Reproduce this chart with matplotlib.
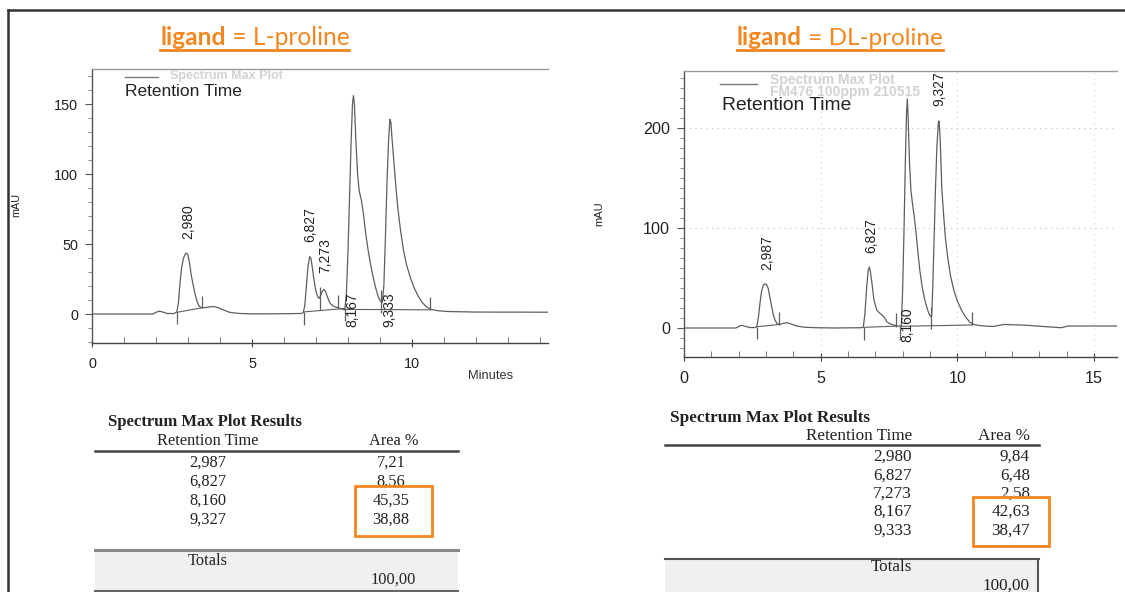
import matplotlib
matplotlib.use("Agg")
import matplotlib.pyplot as plt
from matplotlib.lines import Line2D
from matplotlib.patches import Rectangle
from matplotlib.ticker import MultipleLocator

plt.rcParams["font.family"] = ["Liberation Sans", "DejaVu Sans"]

W, H = 1125, 592
ORANGE = "#F5861F"
TRACE = "#5e5e5e"
INK = "#222222"

# ---- L-proline chromatogram (minutes, mAU) ----
l_time = [0.0, 1.9, 2.0, 2.1, 2.2, 2.35, 2.55, 2.65, 2.7, 2.75,
          2.8, 2.86, 2.92, 2.96, 3.0, 3.05, 3.1, 3.16, 3.22, 3.28,
          3.34, 3.4, 3.5, 3.65, 3.8, 3.95, 4.1, 4.3, 4.6, 5.0,
          6.0, 6.55, 6.6, 6.65, 6.7, 6.75, 6.8, 6.84, 6.88, 6.94,
          7.0, 7.06, 7.1, 7.15, 7.2, 7.25, 7.3, 7.36, 7.44, 7.55,
          7.65, 7.78, 7.9, 7.95, 8.0, 8.05, 8.1, 8.14, 8.17, 8.2,
          8.25, 8.3, 8.35, 8.42, 8.48, 8.55, 8.62, 8.7, 8.78, 8.86,
          8.95, 9.02, 9.07, 9.12, 9.17, 9.22, 9.27, 9.31, 9.34, 9.38,
          9.44, 9.5, 9.56, 9.64, 9.73, 9.83, 9.94, 10.06, 10.2, 10.33,
          10.46, 10.6, 10.8, 11.1, 12.0, 14.25]
l_mau = [0.0, 0.0, 1.2, 2.0, 1.5, 0.4, 0.3, 1.5, 8, 22,
         33, 40, 43, 43.5, 42, 36, 28, 21, 14.5, 9,
         6, 4.6, 4.5, 5.0, 5.4, 4.5, 3.0, 1.2, 0.4, 0.1,
         0.2, 0.4, 1.0, 6, 20, 34, 41, 40, 34, 24,
         16, 12, 11.2, 13.5, 16.5, 17.6, 16, 12, 7.6, 5.5,
         4.8, 3.8, 3.0, 15, 45, 85, 125, 150, 156, 150,
         122, 100, 88, 81, 72, 58, 47, 36, 27, 19,
         12, 9, 8, 20, 55, 95, 125, 139, 137, 124,
         107, 90, 75, 60, 46, 35, 26.7, 19, 12.4, 8,
         5, 3.2, 2.4, 1.8, 1.4, 1.3]
l_labels = ["2,980", "6,827", "7,273", "8,167", "9,333"]
l_label_t = [3.0, 6.83, 7.3, 8.14, 9.3]
l_label_y = [66, 64, 42, 3, 3]
l_base_t = [(2.65, 3.45), (6.62, 7.9), (7.91, 10.56)]
l_base_y = [(1.2, 4.5), (1.5, 4.0), (3.3, 3.0)]
l_tick_t = [2.65, 3.45, 6.62, 7.12, 7.7, 7.91, 9.03, 10.56]
l_tick_lo = [-7, 4.5, -7.5, 3, 4, -5, 0.5, 3]
l_tick_hi = [1.2, 13, 1.5, 19.5, 13.6, 3.3, 17, 12.4]

# ---- DL-proline chromatogram ----
r_time = [0.0, 1.9, 2.0, 2.1, 2.2, 2.4, 2.6, 2.66, 2.72, 2.78,
          2.84, 2.9, 2.96, 3.02, 3.08, 3.14, 3.21, 3.27, 3.33, 3.4,
          3.5, 3.62, 3.76, 3.9, 4.12, 4.4, 4.8, 5.5, 6.5, 6.56,
          6.62, 6.68, 6.74, 6.78, 6.82, 6.87, 6.95, 7.05, 7.15, 7.25,
          7.34, 7.42, 7.55, 7.7, 7.9, 7.95, 8.0, 8.05, 8.1, 8.14,
          8.17, 8.2, 8.25, 8.3, 8.36, 8.42, 8.49, 8.56, 8.63, 8.72,
          8.8, 8.88, 8.95, 9.02, 9.06, 9.1, 9.15, 9.2, 9.25, 9.3,
          9.33, 9.37, 9.43, 9.5, 9.57, 9.65, 9.75, 9.87, 10.0, 10.15,
          10.3, 10.45, 10.6, 10.8, 11.1, 11.3, 11.7, 12.5, 13.3, 13.8,
          14.05, 15.84]
r_mau = [0.0, 0.0, 1.5, 2.7, 2.0, 0.5, 0.4, 1.3, 10, 25,
         37, 43, 44, 43.5, 39.7, 31, 21, 13, 8, 4.5,
         3.5, 4.5, 5.3, 4.2, 2.0, 0.8, 0.3, 0.0, 0.3, 0.8,
         15, 40, 58, 61, 56, 46, 28, 18, 15, 13,
         10, 6.3, 4, 2.7, 1.7, 2, 40, 100, 170, 215,
         229, 210, 165, 138, 124, 112, 95, 75, 57, 40,
         29, 21, 15, 11.5, 12, 40, 90, 140, 180, 204,
         207, 190, 140, 112, 88, 70, 52, 38, 27, 18,
         11, 6, 3.5, 2.5, 1.8, 1.5, 3.5, 2.8, 1.2, 0.3,
         2.0, 2.0]
r_labels = ["2,987", "6,827", "8,160", "9,327"]
r_label_t = [3.05, 6.85, 8.17, 9.34]
r_label_y = [75, 92, 3, 239]
r_base_t = [(2.66, 3.49), (6.59, 7.75), (7.9, 10.55)]
r_base_y = [(1.3, 3.5), (0.7, 1.8), (1.7, 3.0)]
r_tick_t = [2.66, 3.49, 6.59, 7.75, 7.9, 9.04, 10.55]
r_tick_lo = [-10.5, 3.5, -11.5, 1.5, -12, -1, 3]
r_tick_hi = [1.3, 16.5, 0.7, 15, 1.7, 21, 16]

# ---- result tables ----
l_tab_rt = ["2,987", "6,827", "8,160", "9,327"]
l_tab_area = ["7,21", "8,56", "45,35", "38,88"]
l_total = "100,00"
r_tab_rt = ["2,980", "6,827", "7,273", "8,167", "9,333"]
r_tab_area = ["9,84", "6,48", "2,58", "42,63", "38,47"]
r_total = "100,00"


def fx(x):
    return x / W


def fy(y):
    return 1 - y / H


fig = plt.figure(figsize=(W / 100, H / 100), dpi=100)
fig.patch.set_facecolor("white")


def hline(x0, x1, y, **kw):
    fig.add_artist(Line2D([fx(x0), fx(x1)], [fy(y), fy(y)], transform=fig.transFigure, **kw))


def txt(x, y, s, **kw):
    kw.setdefault("va", "center")
    kw.setdefault("color", INK)
    return fig.text(fx(x), fy(y), s, **kw)


def chrom(ax, t, y, names, lt, ly, bt, by, kt, klo, khi, ysize):
    ax.plot(t, y, color=TRACE, lw=0.9)
    for (a, b), (c, d) in zip(bt, by):
        ax.plot([a, b], [c, d], color=TRACE, lw=0.8)
    ax.vlines(kt, klo, khi, color=TRACE, lw=0.9)
    for s, a, b in zip(names, lt, ly):
        ax.text(a, b, s, rotation=90, ha="center", va="center", fontsize=10, color=INK)
    ax.spines["right"].set_visible(False)
    ax.spines["top"].set_color("#9a9a9a")
    ax.spines["left"].set_color("#555555")
    ax.spines["bottom"].set_color("#444444")
    for s in ax.spines.values():
        s.set_linewidth(1.0)
    ax.xaxis.set_major_locator(MultipleLocator(5))
    ax.xaxis.set_minor_locator(MultipleLocator(1))
    ax.yaxis.set_minor_locator(MultipleLocator(10))
    ax.tick_params(axis="x", which="major", direction="inout", length=6, color="#444",
                   labelsize=ysize, labelcolor=INK, pad=7)
    ax.tick_params(axis="x", which="minor", direction="in", length=4, color="#666")
    ax.tick_params(axis="y", which="major", direction="out", length=5, color="#555",
                   labelsize=ysize, labelcolor=INK, pad=5)
    ax.tick_params(axis="y", which="minor", direction="out", length=3, color="#777")
    ax.set_facecolor("none")


# left chromatogram
axL = fig.add_axes([fx(92), fy(343), (548 - 92) / W, (343 - 69) / H])
axL.set_xlim(0, 14.25)
axL.set_ylim(-20.7, 175)
axL.yaxis.set_major_locator(MultipleLocator(50))
chrom(axL, l_time, l_mau, l_labels, l_label_t, l_label_y, l_base_t, l_base_y,
      l_tick_t, l_tick_lo, l_tick_hi, 10.4)

# right chromatogram
axR = fig.add_axes([fx(684), fy(357), (1117 - 684) / W, (357 - 70.5) / H])
axR.set_xlim(0, 15.84)
axR.set_ylim(-29, 257.5)
axR.yaxis.set_major_locator(MultipleLocator(100))
for g in [100, 200]:
    axR.axhline(g, color="#bdbdbd", lw=0.8, ls=(0, (1, 4)), zorder=0)
for g in [5, 10, 15]:
    axR.axvline(g, color="#cfcfcf", lw=0.8, ls=(0, (1, 4)), zorder=0)
chrom(axR, r_time, r_mau, r_labels, r_label_t, r_label_y, r_base_t, r_base_y,
      r_tick_t, r_tick_lo, r_tick_hi, 11.6)

# axis titles and legends
txt(16, 205, "mAU", rotation=90, ha="center", fontsize=7.8)
txt(599, 214, "mAU", rotation=90, ha="center", fontsize=8)
txt(491, 376, "Minutes", ha="center", fontsize=9.3, color="#333")

hline(125, 158, 76.5, color="#777", lw=1)
txt(170, 76.5, "Spectrum Max Plot", ha="left", fontsize=9, fontweight="bold", color="#d2d2d2")
txt(125, 91.5, "Retention Time", ha="left", fontsize=12.5)

hline(720, 757, 84, color="#777", lw=1)
txt(770, 80, "Spectrum Max Plot", ha="left", fontsize=10, fontweight="bold", color="#d2d2d2")
txt(770, 92, "FM476 100ppm 210515", ha="left", fontsize=10, fontweight="bold", color="#d2d2d2")
txt(722, 105.5, "Retention Time", ha="left", fontsize=13.9)

# orange headings with underline
renderer = fig.canvas.get_renderer()


def heading(x0, x1, y_base, rest):
    a = fig.text(fx(x0), fy(y_base), "ligand", fontsize=17, fontweight="bold",
                 color=ORANGE, family="Lato", va="baseline")
    b = fig.text(0, fy(y_base), " = " + rest, fontsize=17, color=ORANGE,
                 family="Lato", va="baseline")
    for _ in range(3):
        ea = a.get_window_extent(renderer)
        b.set_x(ea.x1 / W)
        eb = b.get_window_extent(renderer)
        k = (x1 - x0) / (eb.x1 - ea.x0)
        a.set_fontsize(a.get_fontsize() * k)
        b.set_fontsize(b.get_fontsize() * k)
    ea = a.get_window_extent(renderer)
    b.set_x(ea.x1 / W)
    eb = b.get_window_extent(renderer)
    fig.add_artist(Line2D([ea.x0 / W, eb.x1 / W], [fy(y_base + 5)] * 2,
                          transform=fig.transFigure, color=ORANGE, lw=2))


heading(160, 349, 45, "L-proline")
heading(737, 943, 45, "DL-proline")

# outer frame
fig.add_artist(Line2D([fx(8), fx(1125)], [fy(10), fy(10)], transform=fig.transFigure,
                      color="#333", lw=1.8))
fig.add_artist(Line2D([fx(8), fx(8)], [fy(10), fy(592)], transform=fig.transFigure,
                      color="#333", lw=1.8))

# left table
SERIF = "Liberation Serif"
txt(108, 422, "Spectrum Max Plot Results", ha="left", family=SERIF, fontweight="bold", fontsize=12)
txt(208, 441, "Retention Time", ha="center", family=SERIF, fontsize=11.8)
txt(394, 441, "Area %", ha="center", family=SERIF, fontsize=11.8)
hline(95, 458, 451, color="#444", lw=1.8)
for i, (rt, ar) in enumerate(zip(l_tab_rt, l_tab_area)):
    y = 463 + 19 * i
    txt(208, y, rt, ha="center", family=SERIF, fontsize=11.8)
    txt(391, y, ar, ha="center", family=SERIF, fontsize=11.8)
fig.add_artist(Rectangle((fx(95), fy(590)), (458 - 95) / W, (590 - 550) / H,
                         transform=fig.transFigure, facecolor="#f0f0f0", edgecolor="none", zorder=0))
hline(95, 458, 550, color="#888", lw=2.2)
hline(95, 458, 590.5, color="#666", lw=1.5)
txt(208, 561, "Totals", ha="center", family=SERIF, fontsize=11.8)
txt(393, 580, l_total, ha="center", family=SERIF, fontsize=11.8)
fig.add_artist(Rectangle((fx(355), fy(536)), (432 - 355) / W, (536 - 486) / H,
                         transform=fig.transFigure, facecolor="none", edgecolor=ORANGE, lw=2, zorder=5))

# right table
txt(670, 418, "Spectrum Max Plot Results", ha="left", family=SERIF, fontweight="bold", fontsize=12.3)
txt(912, 436, "Retention Time", ha="right", family=SERIF, fontsize=12.3)
txt(1030, 436, "Area %", ha="right", family=SERIF, fontsize=12.3)
hline(665, 1039, 445, color="#444", lw=1.8)
for i, (rt, ar) in enumerate(zip(r_tab_rt, r_tab_area)):
    y = 457 + 18.3 * i
    txt(912, y, rt, ha="right", family=SERIF, fontsize=12.3)
    txt(1030, y, ar, ha="right", family=SERIF, fontsize=12.3)
fig.add_artist(Rectangle((fx(665), fy(600)), (1038 - 665) / W, (600 - 558) / H,
                         transform=fig.transFigure, facecolor="#f0f0f0", edgecolor="none", zorder=0))
hline(665, 1039, 558.5, color="#555", lw=1.5)
fig.add_artist(Line2D([fx(1038), fx(1038)], [fy(558.5), fy(592)], transform=fig.transFigure,
                      color="#555", lw=1.5))
txt(912, 567, "Totals", ha="right", family=SERIF, fontsize=12.3)
txt(1030, 586, r_total, ha="right", family=SERIF, fontsize=12.3)
fig.add_artist(Rectangle((fx(973), fy(546)), (1049 - 973) / W, (546 - 497) / H,
                         transform=fig.transFigure, facecolor="none", edgecolor=ORANGE, lw=2, zorder=5))

fig.savefig("out.png", dpi=100)
